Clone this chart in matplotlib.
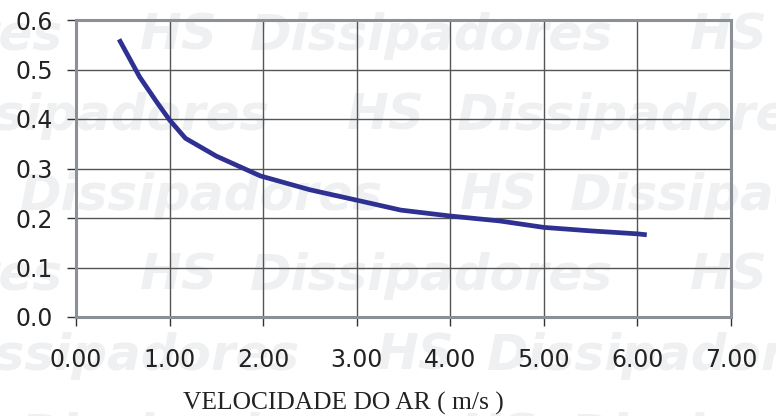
import matplotlib
matplotlib.use("Agg")
import matplotlib.pyplot as plt

# curve
velocity = [0.46, 0.68, 0.86, 1.00, 1.17, 1.50, 1.97, 2.50, 3.00, 3.47,
            4.00, 4.53, 5.00, 5.50, 6.00, 6.10]
values = [0.561, 0.485, 0.435, 0.398, 0.361, 0.325, 0.285, 0.257, 0.236,
          0.216, 0.204, 0.194, 0.181, 0.174, 0.168, 0.166]

x_ticks = [0, 1, 2, 3, 4, 5, 6, 7]
y_ticks = [0.0, 0.1, 0.2, 0.3, 0.4, 0.5, 0.6]

W, H = 776, 416

fig = plt.figure(figsize=(W / 100, H / 100), dpi=100)
fig.patch.set_facecolor("white")

# background watermark rows (baseline px, x of first "HS" px)
rows = [(50, 140), (130, 347), (210, 460), (290, 140), (370, 377), (450, 460)]
period = 550
for base, x0 in rows:
    for k in range(-1, 2):
        hx = x0 + k * period
        for word, dx in (("HS", 0), ("Dissipadores", 110)):
            fig.text((hx + dx) / W, 1 - base / H, word, fontsize=36,
                     fontweight="bold", style="italic", family="DejaVu Sans",
                     color="#eff0f2", va="baseline", ha="left", zorder=0)

ax = fig.add_axes([76 / W, 1 - 317 / H, (731 - 76) / W, (317 - 20) / H])
ax.patch.set_alpha(0)
ax.set_zorder(2)

ax.plot(velocity, values, color="#2e3192", linewidth=3.4, solid_capstyle="butt")

ax.set_xlim(0, 7)
ax.set_ylim(0, 0.6)
ax.set_xticks(x_ticks)
ax.set_xticklabels([f"{v:.2f}" for v in x_ticks])
ax.set_yticks(y_ticks)
ax.set_yticklabels([f"{v:.1f}" for v in y_ticks])

ax.grid(True, color="#555555", linewidth=1.0)
ax.set_axisbelow(True)
for side in ["left", "right", "top", "bottom"]:
    ax.spines[side].set_color("#8a9096")
    ax.spines[side].set_linewidth(2.2)

ax.tick_params(axis="both", direction="out", length=6.5, width=1,
               color="#333333", labelsize=17, labelcolor="#222222")
ax.tick_params(axis="x", pad=16)
ax.tick_params(axis="y", pad=10)

fig.text(343 / W, 1 - 410 / H, "VELOCIDADE DO AR ( m/s )", family="Liberation Serif",
         fontsize=18.4, color="#222222", ha="center", va="baseline")

fig.savefig("out.png", dpi=100)
